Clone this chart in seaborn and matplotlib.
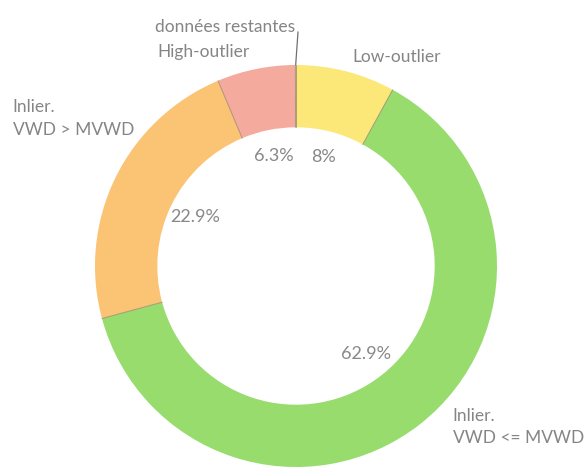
import numpy as np
import matplotlib
matplotlib.use("Agg")
import matplotlib.pyplot as plt
import seaborn as sns

categories = ["Low-outlier", "Inlier.\nVWD <= MVWD", "Inlier.\nVWD > MVWD", "High-outlier", "données restantes"]
values = [8.0, 62.9, 22.9, 6.3, 0.05]
pct_labels = ["8%", "62.9%", "22.9%", "6.3%", ""]
colors = ["#fbe878", "#98dc6e", "#fbc374", "#f4aa9d", "#c9c9c9"]

sns.set_theme(style="white")
plt.rcParams["font.family"] = ["Lato", "DejaVu Sans"]

fig = plt.figure(figsize=(5.84, 4.70), dpi=100)
ax = fig.add_axes([0, 0, 1, 1])

it = iter(pct_labels)
wedges, texts, autotexts = ax.pie(
    values, colors=colors, startangle=90, counterclock=False,
    radius=1.0, wedgeprops=dict(width=0.31, linewidth=0),
    autopct=lambda p: next(it), pctdistance=0.56,
    textprops=dict(color="#888888", fontsize=13),
)

# thin separators between slices
for w in wedges:
    a = np.deg2rad(w.theta1)
    ax.plot([0.69 * np.cos(a), 1.0 * np.cos(a)], [0.69 * np.sin(a), 1.0 * np.sin(a)],
            color="#9a8a70", lw=0.7, alpha=0.8, zorder=3)

label_kw = dict(color="#858585", fontsize=12.5, linespacing=1.5)
# outer labels
ax.text(0.50, 1.04, categories[0], ha="center", va="center", **label_kw)
ax.text(0.78, -0.80, categories[1], ha="left", va="center", **label_kw)
ax.text(-1.41, 0.735, categories[2], ha="left", va="center", **label_kw)
ax.text(-0.46, 1.065, categories[3], ha="center", va="center", **label_kw)
ax.text(-0.005, 1.19, categories[4], ha="right", va="center", **label_kw)

# leader line for the tiny slice
w = wedges[4]
a = np.deg2rad((w.theta1 + w.theta2) / 2)
ax.plot([np.cos(a), 0.01], [np.sin(a), 1.165], color="#707070", lw=0.9)

ax.set_xlim(-1.4726, 1.4328)
ax.set_ylim(-1.0149, 1.3234)
ax.set_aspect("equal")
ax.axis("off")

fig.savefig("out.png", dpi=100)
